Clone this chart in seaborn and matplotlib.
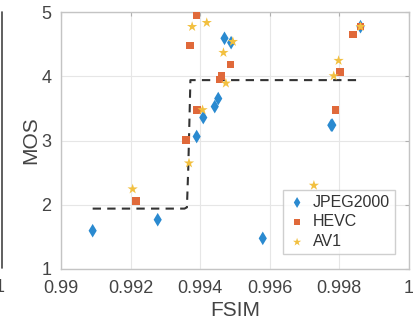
import numpy as np
import pandas as pd
import matplotlib
matplotlib.use("Agg")
import matplotlib.pyplot as plt
import seaborn as sns
from matplotlib.lines import Line2D

# ---- data ----
jpeg_x = [0.99091, 0.99278, 0.99390, 0.99409, 0.99442, 0.99452, 0.99470, 0.99489, 0.99580, 0.99777, 0.99780, 0.99861]
jpeg_y = [1.596, 1.767, 3.062, 3.357, 3.528, 3.653, 4.591, 4.523, 1.477, 3.238, 3.240, 4.772]
hevc_x = [0.99389, 0.99371, 0.99391, 0.99360, 0.99215, 0.99461, 0.99456, 0.99487, 0.99789, 0.99802, 0.99839, 0.99861]
hevc_y = [4.948, 4.477, 3.477, 3.005, 2.062, 4.005, 3.948, 4.181, 3.477, 4.067, 4.653, 4.772]
av1_x = [0.99377, 0.99419, 0.99467, 0.99494, 0.99474, 0.99407, 0.99368, 0.99206, 0.99727, 0.99784, 0.99798, 0.99861]
av1_y = [4.772, 4.834, 4.368, 4.539, 3.891, 3.477, 2.648, 2.244, 2.301, 4.005, 4.244, 4.772]
fit_x = [0.99091, 0.99355, 0.99362, 0.99366, 0.99372, 0.99861]
fit_y = [1.94, 1.94, 1.96, 2.6, 3.94, 3.94]
codecs = ["JPEG2000", "HEVC", "AV1"]

df = pd.concat([
    pd.DataFrame({"FSIM": jpeg_x, "MOS": jpeg_y, "codec": "JPEG2000"}),
    pd.DataFrame({"FSIM": hevc_x, "MOS": hevc_y, "codec": "HEVC"}),
    pd.DataFrame({"FSIM": av1_x, "MOS": av1_y, "codec": "AV1"}),
], ignore_index=True)
fit = pd.DataFrame({"FSIM": fit_x, "MOS": fit_y})

sns.set_style("white")
plt.rcParams["font.family"] = ["Liberation Sans", "DejaVu Sans"]

fig = plt.figure(figsize=(4.13, 3.22), dpi=100)
ax = fig.add_axes([0.1477, 0.1646, 0.8423, 0.7981])

palette = {"JPEG2000": "#2a8ad0", "HEVC": "#e0693a", "AV1": "#f2c040"}
markers = {"JPEG2000": "d", "HEVC": "s", "AV1": "*"}
sizes = {"JPEG2000": 48, "HEVC": 30, "AV1": 60}

sns.lineplot(data=fit, x="FSIM", y="MOS", ax=ax, color="#333333", lw=1.5,
             linestyle=(0, (4, 3)), sort=False, zorder=2)

for c in codecs:
    sub = df[df.codec == c]
    sns.scatterplot(data=sub, x="FSIM", y="MOS", marker=markers[c], s=sizes[c],
                    color=palette[c], edgecolor="none", zorder=3, label=c, ax=ax)

ax.set_xlim(0.99, 1.0)
ax.set_ylim(1, 5)
ax.set_xticks([0.99, 0.992, 0.994, 0.996, 0.998, 1.0])
ax.set_xticklabels(["0.99", "0.992", "0.994", "0.996", "0.998", "1"])
ax.set_yticks([1, 2, 3, 4, 5])
ax.set_yticklabels(["1", "2", "3", "4", "5"])
ax.grid(True, color="#e6e6e6", lw=0.8)
ax.set_axisbelow(True)
for s in ax.spines.values():
    s.set_color("#c4c4c4")
    s.set_linewidth(1.0)
ax.tick_params(axis="both", direction="in", length=3, color="#b0b0b0",
               labelsize=13, labelcolor="#444444", top=True, right=True)
ax.tick_params(axis="x", pad=8)
ax.tick_params(axis="y", pad=7)
ax.set_xlabel("FSIM", fontsize=15, color="#444444", labelpad=3)
ax.set_ylabel("MOS", fontsize=15, color="#444444", labelpad=1)

leg = ax.legend(loc="lower right", bbox_to_anchor=(0.983, 0.027), fontsize=11.5,
                frameon=True, fancybox=False, handletextpad=0.4, borderpad=0.3,
                labelspacing=0.3, handlelength=1.2, markerscale=0.8)
leg.get_frame().set_edgecolor("#c4c4c4")
leg.get_frame().set_linewidth(1.0)
for t in leg.get_texts():
    t.set_color("#333333")

# cropped neighbour artifacts at left edge
fig.add_artist(Line2D([0.004, 0.004], [1 - 268/322, 1 - 12/322], color="#444444", lw=1.2))
fig.text(-0.012, 1 - 288/322, "1", fontsize=13, color="#444444", va="center")

fig.savefig("out.png", dpi=100)
